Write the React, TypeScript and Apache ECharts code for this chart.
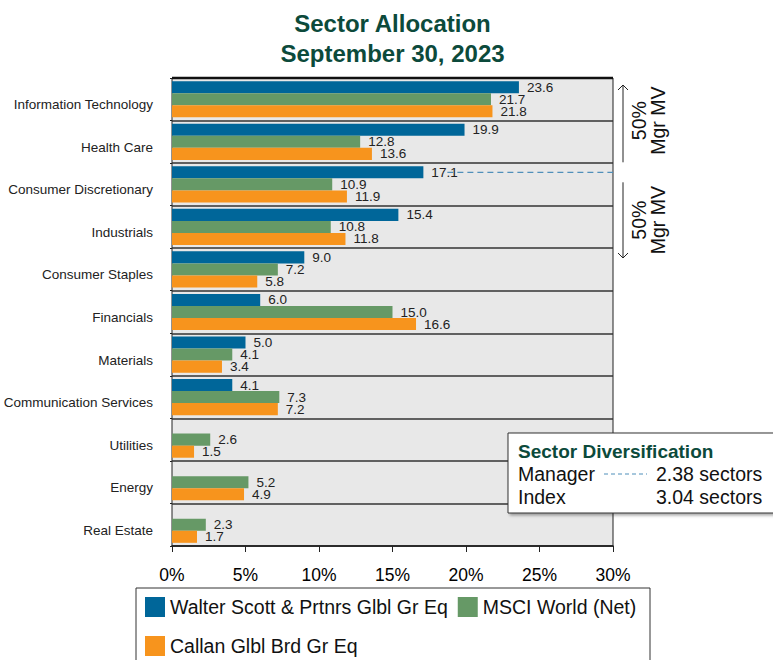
import React, { useEffect, useRef } from "react";
import * as echarts from "echarts";

const categories = [
  "Information Technology",
  "Health Care",
  "Consumer Discretionary",
  "Industrials",
  "Consumer Staples",
  "Financials",
  "Materials",
  "Communication Services",
  "Utilities",
  "Energy",
  "Real Estate",
];
const managerName = "Walter Scott & Prtnrs Glbl Gr Eq";
const indexName = "MSCI World (Net)";
const groupName = "Callan Glbl Brd Gr Eq";
const managerValues = [23.6, 19.9, 17.1, 15.4, 9.0, 6.0, 5.0, 4.1, null, null, null];
const indexValues = [21.7, 12.8, 10.9, 10.8, 7.2, 15.0, 4.1, 7.3, 2.6, 5.2, 2.3];
const groupValues = [21.8, 13.6, 11.9, 11.8, 5.8, 16.6, 3.4, 7.2, 1.5, 4.9, 1.7];
const xTicks = [0, 5, 10, 15, 20, 25, 30];
const cutoffCategory = "Consumer Discretionary";
const cutoffValue = 17.1;
const diversification = [
  { label: "Manager", value: "2.38 sectors", dashed: true },
  { label: "Index", value: "3.04 sectors", dashed: false },
];

const BLUE = "#006699";
const GREEN = "#669966";
const ORANGE = "#F7941D";
const TITLE = "#0C4A3B";
const FONT = "Liberation Sans, Arial, sans-serif";

const GRID = { left: 172, right: 613, top: 78, bottom: 546 };
const BAR_GAP = 0.15;

export default function App() {
  const ref = useRef<HTMLDivElement>(null);
  useEffect(() => {
    if (!ref.current) return;
    const chart = echarts.init(ref.current, null, { renderer: "svg" });
    const label = {
      show: true,
      position: "right",
      distance: 8,
      fontSize: 13.5,
      color: "#222",
      fontFamily: FONT,
      formatter: (p: any) => (p.value == null ? "" : Number(p.value).toFixed(1)),
    };
    const mkSeries = (name: string, data: any[], color: string) => ({
      name,
      type: "bar",
      data,
      barGap: "0%",
      barCategoryGap: BAR_GAP * 100 + "%",
      itemStyle: { color },
      label,
    });
    const legendText = { fontSize: 19.5, color: "#111", fontFamily: FONT };
    chart.setOption({
      animation: false,
      textStyle: { fontFamily: FONT },
      grid: {
        left: GRID.left,
        top: GRID.top,
        width: GRID.right - GRID.left,
        height: GRID.bottom - GRID.top,
        show: true,
        backgroundColor: "#e8e8e8",
        borderColor: "#222",
        borderWidth: 1,
      },
      xAxis: {
        type: "value",
        min: xTicks[0],
        max: xTicks[xTicks.length - 1],
        interval: xTicks[1] - xTicks[0],
        axisLine: { show: true, lineStyle: { color: "#222", width: 1.5 } },
        axisTick: { show: true, length: 6, lineStyle: { color: "#222" } },
        splitLine: { show: false },
        axisLabel: {
          formatter: "{value}%",
          fontSize: 17.5,
          color: "#000",
          margin: 20,
          fontFamily: FONT,
        },
      },
      yAxis: {
        type: "category",
        inverse: true,
        data: categories,
        axisLine: { show: false },
        axisTick: { show: true, length: 2, lineStyle: { color: "#222" } },
        splitLine: { show: true, lineStyle: { color: "#333", width: 1.5 } },
        axisLabel: {
          fontSize: 13.5,
          color: "#222",
          margin: 19,
          verticalAlign: "top",
          lineHeight: 11,
          fontFamily: FONT,
        },
      },
      legend: [
        {
          left: 140,
          top: 592,
          orient: "horizontal",
          itemWidth: 20,
          itemHeight: 20,
          itemGap: 10,
          icon: "rect",
          data: [managerName, indexName],
          textStyle: legendText,
        },
        {
          left: 140,
          top: 631,
          orient: "horizontal",
          itemWidth: 20,
          itemHeight: 20,
          icon: "rect",
          data: [groupName],
          textStyle: legendText,
        },
      ],
      series: [
        mkSeries(managerName, managerValues, BLUE),
        mkSeries(indexName, indexValues, GREEN),
        mkSeries(groupName, groupValues, ORANGE),
      ],
    });

    const bandH = (GRID.bottom - GRID.top) / categories.length;
    const barW = (bandH * (1 - BAR_GAP)) / 3;
    const yc = chart.convertToPixel({ yAxisIndex: 0 }, cutoffCategory) as number;
    const yDash = yc - barW;
    const xStart = (chart.convertToPixel({ xAxisIndex: 0 }, cutoffValue) as number) + 24;
    const arrowX = 623;
    const arrowText = {
      text: "50%\nMgr MV",
      fontSize: 19.5,
      lineHeight: 19,
      fill: "#111",
      align: "center",
      verticalAlign: "middle",
      fontFamily: FONT,
    };

    const graphic: any[] = [
      {
        type: "text",
        x: (GRID.left + GRID.right) / 2,
        y: 8,
        style: {
          text: "Sector Allocation\nSeptember 30, 2023",
          fontSize: 24,
          fontWeight: "bold",
          fill: TITLE,
          align: "center",
          verticalAlign: "top",
          lineHeight: 30,
          fontFamily: FONT,
        },
      },
      {
        type: "line",
        z: 50,
        shape: { x1: GRID.left, y1: GRID.top, x2: GRID.right, y2: GRID.top },
        style: { stroke: "#111", lineWidth: 2.5 },
      },
      {
        type: "line",
        z: 50,
        shape: { x1: xStart, y1: yDash, x2: GRID.right, y2: yDash },
        style: { stroke: "#4f8fba", lineWidth: 1.2, lineDash: [6, 4] },
      },
      // arrow 1
      {
        type: "polyline",
        shape: { points: [[arrowX, yDash - 10], [arrowX, GRID.top + 7]] },
        style: { stroke: "#222", lineWidth: 1, fill: null },
      },
      {
        type: "polyline",
        shape: { points: [[arrowX - 5, GRID.top + 12], [arrowX, GRID.top + 7], [arrowX + 5, GRID.top + 12]] },
        style: { stroke: "#222", lineWidth: 1, fill: null },
      },
      // arrow 2
      {
        type: "polyline",
        shape: { points: [[arrowX, yDash + 10], [arrowX, 258]] },
        style: { stroke: "#222", lineWidth: 1, fill: null },
      },
      {
        type: "polyline",
        shape: { points: [[arrowX - 5, 253], [arrowX, 258], [arrowX + 5, 253]] },
        style: { stroke: "#222", lineWidth: 1, fill: null },
      },
      {
        type: "text",
        x: 648,
        y: (GRID.top + 7 + yDash - 10) / 2 - 3,
        rotation: Math.PI / 2,
        style: arrowText,
      },
      {
        type: "text",
        x: 648,
        y: (yDash + 10 + 258) / 2,
        rotation: Math.PI / 2,
        style: arrowText,
      },
      // diversification box
      {
        type: "rect",
        z: 100,
        shape: { x: 508, y: 433, width: 280, height: 80 },
        style: {
          fill: "#fff",
          stroke: "#333",
          lineWidth: 1,
          shadowBlur: 3,
          shadowOffsetX: 2,
          shadowOffsetY: 2,
          shadowColor: "rgba(0,0,0,0.35)",
        },
      },
      {
        type: "text",
        z: 101,
        x: 518,
        y: 451,
        style: {
          text: "Sector Diversification",
          fontSize: 19,
          fontWeight: "bold",
          fill: TITLE,
          verticalAlign: "middle",
          fontFamily: FONT,
        },
      },
      // legend box
      {
        type: "rect",
        z: 0,
        shape: { x: 136, y: 588, width: 514, height: 90 },
        style: { fill: "#fff", stroke: "#333", lineWidth: 1 },
      },
    ];
    diversification.forEach((d, i) => {
      const y = 474 + i * 23;
      graphic.push({
        type: "text",
        z: 101,
        x: 518,
        y,
        style: { text: d.label, fontSize: 19.5, fill: "#111", verticalAlign: "middle", fontFamily: FONT },
      });
      graphic.push({
        type: "text",
        z: 101,
        x: 656,
        y,
        style: { text: d.value, fontSize: 19.5, fill: "#111", verticalAlign: "middle", fontFamily: FONT },
      });
      if (d.dashed) {
        graphic.push({
          type: "line",
          z: 101,
          shape: { x1: 604, y1: y, x2: 647, y2: y },
          style: { stroke: "#4f8fba", lineWidth: 1, lineDash: [4, 3] },
        });
      }
    });
    chart.setOption({ graphic });
    return () => chart.dispose();
  }, []);
  return (
    <div
      ref={ref}
      style={{ position: "fixed", left: 0, top: 0, width: 773, height: 660, background: "#fff" }}
    />
  );
}
